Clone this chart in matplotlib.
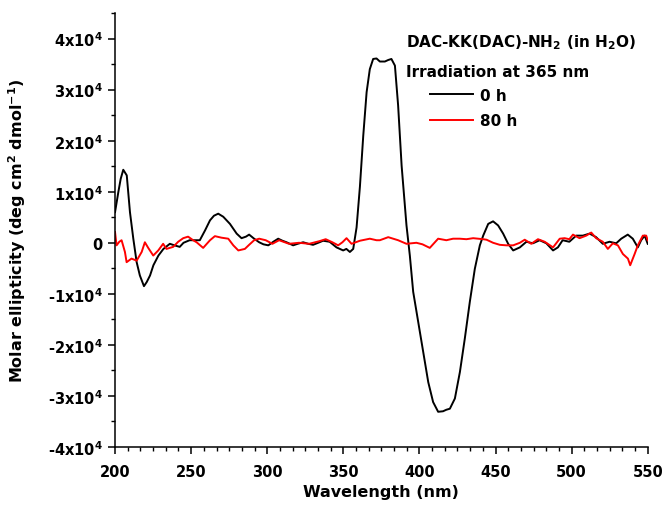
"""CD spectra of DAC-KK(DAC)-NH2 before/after irradiation at 365 nm."""

import matplotlib
matplotlib.use("Agg")
import matplotlib.pyplot as plt
from matplotlib.ticker import MultipleLocator, AutoMinorLocator, FuncFormatter

plt.rcParams.update({
    "font.family": ["DejaVu Sans"],
    "font.weight": "bold",
    "font.size": 10,
    "mathtext.fontset": "dejavusans",
    "mathtext.default": "bf",
    "axes.spines.top": False, "axes.spines.right": False,
})

# molar ellipticity in units of 1e4 deg cm2 dmol-1
wl_0h = [200, 202.2, 203.7, 205.4, 207.7, 209.8, 212, 214.2, 216.3, 219, 220.8, 223, 225.2,
         228.5, 231.8, 236, 239, 242.5, 245, 249, 252, 255.7, 259.1, 262.4, 265, 267.8,
         271.1, 275.5, 279.9, 283.1, 286, 288.1, 291.4, 294.7, 297.5, 300.7, 304, 307.2,
         310, 312.7, 317, 320, 323.6, 327, 330.1, 333.5, 336.7, 341, 345.5, 349.9, 352,
         354.3, 356.5, 358.7, 360.9, 363.1, 365.3, 367.4, 369.6, 371.8, 374, 377.3, 379.5,
         381.6, 383.9, 386, 388.3, 391.5, 393.7, 395.9, 399.2, 402.5, 405.8, 409, 412.3,
         415.5, 417.7, 420, 423.3, 426.6, 429.8, 433.1, 436.4, 439.7, 441.9, 445.2, 448.4,
         451.7, 455, 458.3, 461.6, 466, 470.3, 474.6, 479, 483.4, 487.8, 491, 494.1, 498.5,
         503, 507.4, 511.8, 516.1, 520.5, 524.9, 529.3, 532.6, 536.9, 540.2, 543.5, 545.7,
         548, 550]
cd_0h = [0.6, 1.0, 1.25, 1.43, 1.32, 0.6, 0.08, -0.38, -0.64, -0.85, -0.77, -0.64, -0.44,
         -0.25, -0.12, -0.02, -0.05, -0.08, 0.0, 0.05, 0.05, 0.05, 0.24, 0.44, 0.53, 0.57,
         0.51, 0.37, 0.18, 0.09, 0.12, 0.16, 0.08, 0.01, -0.03, -0.05, 0.02, 0.08,
         0.04, 0.01, -0.05, -0.02, 0.01, -0.02, -0.04, 0.0, 0.04, 0.02, -0.09, -0.15, -0.12,
         -0.18, -0.12, 0.3, 1.1, 2.1, 2.95, 3.4, 3.6, 3.61, 3.55, 3.55, 3.58,
         3.6, 3.47, 2.69, 1.51, 0.34, -0.25, -0.96, -1.55, -2.14, -2.73, -3.12, -3.31,
         -3.30, -3.27, -3.25, -3.05, -2.53, -1.88, -1.16, -0.51, -0.05, 0.14, 0.37, 0.42,
         0.34, 0.18, -0.02, -0.15, -0.09, 0.02, -0.01, 0.05, -0.01, -0.15, -0.09, 0.05, 0.02,
         0.14, 0.14, 0.18, 0.11, -0.02, 0.02, -0.01, 0.08, 0.16, 0.08, -0.09, 0.05,
         0.14, -0.02]

wl_80h = [200, 201, 202.8, 204.3, 206.5, 207.6, 210.8, 214.2, 217.5, 219.6, 221.8, 225.1,
          228.4, 231.6, 233.8, 238.2, 241.5, 244.8, 248, 251.3, 253.6, 257.9, 262.4, 265.6,
          269.9, 274.4, 277.7, 281, 285.3, 288.1, 291.4, 294.7, 299, 303.4, 307.8, 314.3,
          320.9, 327.5, 334.1, 338.4, 342.8, 346.6, 349.4, 352.1, 355.4, 360.9, 367.4, 371.8,
          374, 379.5, 386, 391.5, 398, 402, 406.8, 412.3, 417.7, 422.1, 426.5, 430.9, 435.3,
          441.9, 444.1, 448.4, 452.8, 457.1, 461.6, 466, 469.2, 473.5, 477.9, 482.3, 487.8,
          492.2, 495.4, 498.5, 500.9, 505.2, 509.6, 512.9, 516.1, 520.5, 523.8, 527.1, 530.4,
          533.7, 537, 538.5, 541.4, 543.5, 546.8, 549, 550]
cd_80h = [0.21, -0.05, 0.02, 0.05, -0.18, -0.38, -0.31, -0.35, -0.18, 0.01, -0.1, -0.25,
          -0.15, -0.02, -0.12, -0.08, 0.02, 0.09, 0.12, 0.05, 0.01, -0.1, 0.05, 0.13,
          0.1, 0.08, -0.05, -0.15, -0.12, -0.04, 0.05, 0.08, 0.05, -0.02, 0.05, -0.02,
          0.0, -0.02, 0.03, 0.07, 0.01, -0.05, 0.01, 0.09, -0.02, 0.04, 0.08, 0.05,
          0.05, 0.11, 0.05, -0.02, 0.0, -0.03, -0.1, 0.08, 0.05, 0.08, 0.08, 0.07, 0.09,
          0.07, 0.06, 0.0, -0.04, -0.05, -0.05, 0.0, 0.06, -0.02, 0.07, 0.02, -0.09,
          0.08, 0.09, 0.07, 0.16, 0.09, 0.14, 0.2, 0.09, 0.02, -0.12, -0.01, -0.05,
          -0.22, -0.31, -0.44, -0.22, -0.05, 0.14, 0.14, 0.05]


def ytick_fmt(v, _):
    if abs(v) < 1e-9:
        return "0"
    return f"{int(round(v))}x10$^{{4}}$"


def main():
    fig = plt.figure(figsize=(6.65, 5.06), dpi=100)
    ax = fig.add_axes([0.173, 0.1146, 0.801, 0.8577])

    ax.plot(wl_0h, cd_0h, color="black", lw=1.4, label="0 h")
    ax.plot(wl_80h, cd_80h, color="#ff0000", lw=1.4, label="80 h")

    ax.set_xlim(200, 550)
    ax.set_ylim(-4, 4.5)
    ax.xaxis.set_major_locator(MultipleLocator(50))
    ax.xaxis.set_minor_locator(AutoMinorLocator(6))
    ax.yaxis.set_major_locator(MultipleLocator(1))
    ax.yaxis.set_minor_locator(AutoMinorLocator(2))
    ax.yaxis.set_major_formatter(FuncFormatter(ytick_fmt))
    for s in ("left", "bottom"):
        ax.spines[s].set_linewidth(1.1)
    ax.tick_params(which="major", length=5, width=1.1, labelsize=10.5, pad=4)
    ax.tick_params(axis="x", which="major", pad=7)
    ax.tick_params(which="minor", length=3, width=1.0)
    for lab in ax.get_xticklabels() + ax.get_yticklabels():
        lab.set_fontweight("bold")

    ax.set_xlabel("Wavelength (nm)", fontsize=11.5, fontweight="bold", labelpad=4)
    ax.set_ylabel("Molar ellipticity (deg cm$^{2}$ dmol$^{-1}$)", fontsize=11.5,
                  fontweight="bold", labelpad=14)

    ax.text(0.546, 0.935, "DAC-KK(DAC)-NH$_{2}$ (in H$_{2}$O)", transform=ax.transAxes,
            fontsize=11, fontweight="bold", va="center", ha="left")
    ax.text(0.546, 0.866, "Irradiation at 365 nm", transform=ax.transAxes,
            fontsize=11, fontweight="bold", va="center", ha="left")
    ax.legend(loc="upper left", bbox_to_anchor=(0.565, 0.86), frameon=False,
              handlelength=2.8, handletextpad=0.5, labelspacing=0.7,
              prop={"size": 11, "weight": "bold"})

    fig.savefig("out.png", dpi=100)
    plt.close(fig)


if __name__ == "__main__":
    main()
